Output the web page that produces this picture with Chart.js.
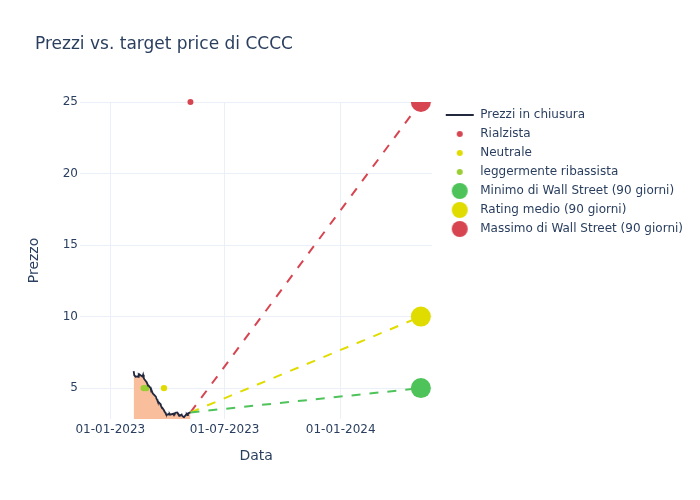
<!DOCTYPE html>
<html><head><meta charset="utf-8">
<script src="https://cdn.jsdelivr.net/npm/chart.js@4.4.1/dist/chart.umd.min.js"></script>
<style>html,body{margin:0;padding:0;background:#fff}</style>
</head><body>
<canvas id="c" width="700" height="500"></canvas>
<script>
// ---- data ----
const dates = [
 "2023-02-07","2023-02-08","2023-02-09","2023-02-10","2023-02-13","2023-02-14","2023-02-15","2023-02-16","2023-02-17",
 "2023-02-21","2023-02-22","2023-02-23","2023-02-24","2023-02-27","2023-02-28",
 "2023-03-01","2023-03-02","2023-03-03","2023-03-06","2023-03-07","2023-03-08","2023-03-09","2023-03-10",
 "2023-03-13","2023-03-14","2023-03-15","2023-03-16","2023-03-17","2023-03-20","2023-03-21","2023-03-22",
 "2023-03-23","2023-03-24","2023-03-27","2023-03-28","2023-03-29","2023-03-30","2023-03-31",
 "2023-04-03","2023-04-04","2023-04-05","2023-04-06","2023-04-10","2023-04-11","2023-04-12","2023-04-13",
 "2023-04-14","2023-04-17","2023-04-18","2023-04-19","2023-04-20","2023-04-21","2023-04-24","2023-04-25",
 "2023-04-26","2023-04-27","2023-04-28",
 "2023-05-01","2023-05-02","2023-05-03","2023-05-04","2023-05-05","2023-05-08"
];
const prices = [
 6.18,5.90,5.85,5.80,5.82,5.78,5.95,5.90,5.93,
 5.80,5.93,5.70,5.62,5.45,5.35,
 5.28,5.20,5.15,5.00,4.75,4.78,4.66,4.60,
 4.45,4.40,4.28,4.20,4.08,3.95,3.90,3.80,
 3.68,3.65,3.45,3.35,3.30,3.20,3.12,
 3.18,3.15,3.20,3.14,3.20,3.15,3.22,3.20,
 3.28,3.30,3.22,3.18,3.10,3.08,3.15,3.05,
 3.02,3.00,2.97,
 3.15,3.18,3.12,3.22,3.25,3.30
];
const bullishDates = ["2023-05-08"];
const bullishValues = [25];
const neutralDates = ["2023-03-27"];
const neutralValues = [5];
const slightlyBearishDates = ["2023-02-23","2023-02-27"];
const slightlyBearishValues = [5,5];
const targetDate = "2024-05-07";
const targetLow = 5;
const targetAvg = 10;
const targetHigh = 25;
const xTickDates = ["2023-01-01","2023-07-01","2024-01-01"];
const yTickValues = [5,10,15,20,25];
const xRange = ["2022-11-14","2024-05-25"];

// ---- helpers ----
const T = s => Date.parse(s + "T00:00:00Z");
const pts = (ds, vs) => ds.map((d,i)=>({x:T(d), y:vs[i]}));
const pad2 = n => String(n).padStart(2,"0");
const fmt = v => { const d = new Date(v); return pad2(d.getUTCDate())+"-"+pad2(d.getUTCMonth()+1)+"-"+d.getUTCFullYear(); };

const COL_TXT = "#2a3f5f", GRID = "#ebf0f8";
const RED = "rgb(214,69,80)", YEL = "rgb(224,220,0)", GRN = "rgb(78,195,90)", YGRN = "rgb(154,205,50)";
const LINE = "rgb(34,40,62)", FILL = "rgb(249,190,156)";

function legendImg(kind, color, r){
  const c = document.createElement("canvas"); c.width = 60; c.height = 20;
  const g = c.getContext("2d"); const cx = 33;
  if (kind === "line") { g.strokeStyle = color; g.lineWidth = 2; g.beginPath(); g.moveTo(cx-14,10); g.lineTo(cx+14,10); g.stroke(); }
  else { g.fillStyle = color; g.beginPath(); g.arc(cx,10,r,0,Math.PI*2); g.fill(); }
  return c;
}

const lastX = dates[dates.length-1], lastY = prices[prices.length-1];
const targetLine = (label, color, val, img) => ({
  label, data: pts([lastX, targetDate],[lastY, val]),
  borderColor: color, backgroundColor: color, borderWidth: 2, borderDash: [9,9],
  pointRadius: [0,10], pointHoverRadius: [0,10], pointBackgroundColor: color, pointBorderWidth: 0,
  fill: false, clip: 0, legendImg: img
});

Chart.defaults.font.family = "'DejaVu Sans', sans-serif";
Chart.defaults.color = COL_TXT;

const datasets = [
  { label: "Prezzi in chiusura", data: pts(dates, prices), borderColor: LINE, borderWidth: 1.8,
    backgroundColor: FILL, fill: "start", pointRadius: 0, tension: 0, legendImg: legendImg("line", LINE) },
  { label: "Rialzista", data: pts(bullishDates, bullishValues), showLine: false, pointRadius: 3,
    pointBackgroundColor: RED, pointBorderWidth: 0, backgroundColor: RED, clip: false, legendImg: legendImg("dot", RED, 3) },
  { label: "Neutrale", data: pts(neutralDates, neutralValues), showLine: false, pointRadius: 3.2,
    pointBackgroundColor: YEL, pointBorderWidth: 0, backgroundColor: YEL, legendImg: legendImg("dot", YEL, 3) },
  { label: "leggermente ribassista", data: pts(slightlyBearishDates, slightlyBearishValues), showLine: false, pointRadius: 3.2,
    pointBackgroundColor: YGRN, pointBorderWidth: 0, backgroundColor: YGRN, legendImg: legendImg("dot", YGRN, 3) },
  targetLine("Minimo di Wall Street (90 giorni)", GRN, targetLow, legendImg("dot", GRN, 8)),
  targetLine("Rating medio (90 giorni)", YEL, targetAvg, legendImg("dot", YEL, 8)),
  targetLine("Massimo di Wall Street (90 giorni)", RED, targetHigh, legendImg("dot", RED, 8))
];

new Chart(document.getElementById("c"), {
  type: "line",
  data: { datasets },
  options: {
    responsive: false, animation: false, devicePixelRatio: 1,
    layout: { padding: { left: 35, right: 7, top: 0, bottom: 0 } },
    plugins: {
      filler: { drawTime: "beforeDatasetsDraw" },
      tooltip: { enabled: false },
      title: { display: true, text: "Prezzi vs. target price di CCCC", align: "start", color: COL_TXT,
        font: { size: 17, weight: "normal" }, padding: { top: 34, bottom: 47.6 } },
      legend: {
        position: "right", align: "start", fullSize: false, maxWidth: 261,
        labels: {
          usePointStyle: true, pointStyleWidth: 35, padding: 7, color: COL_TXT, font: { size: 12 },
          generateLabels: chart => chart.data.datasets.map((d,i)=>({
            text: d.label, pointStyle: d.legendImg, fillStyle: "rgba(0,0,0,0)", strokeStyle: "rgba(0,0,0,0)",
            lineWidth: 0, hidden: false, datasetIndex: i, fontColor: COL_TXT
          }))
        }
      }
    },
    scales: {
      x: {
        type: "linear", min: T(xRange[0]), max: T(xRange[1]),
        afterBuildTicks: s => { s.ticks = xTickDates.map(d=>({value: T(d)})); },
        afterFit: s => { s.height = 81; },
        ticks: { callback: v => fmt(v), padding: 4, color: COL_TXT, font: { size: 12 }, maxRotation: 0 },
        grid: { color: GRID, drawTicks: false },
        border: { display: false },
        title: { display: true, text: "Data", color: COL_TXT, font: { size: 14 }, padding: { top: 0, bottom: 35 } }
      },
      y: {
        type: "linear", min: 2.84, max: 25,
        afterBuildTicks: s => { s.ticks = yTickValues.map(v=>({value: v})); },
        afterFit: s => { s.width = 45; },
        ticks: { callback: v => String(v), padding: 2, color: COL_TXT, font: { size: 12 } },
        grid: { color: GRID, drawTicks: false },
        border: { display: false },
        title: { display: true, text: "Prezzo", color: COL_TXT, font: { size: 14 }, padding: { top: -9, bottom: 0 } }
      }
    }
  }
});
</script>
</body></html>
